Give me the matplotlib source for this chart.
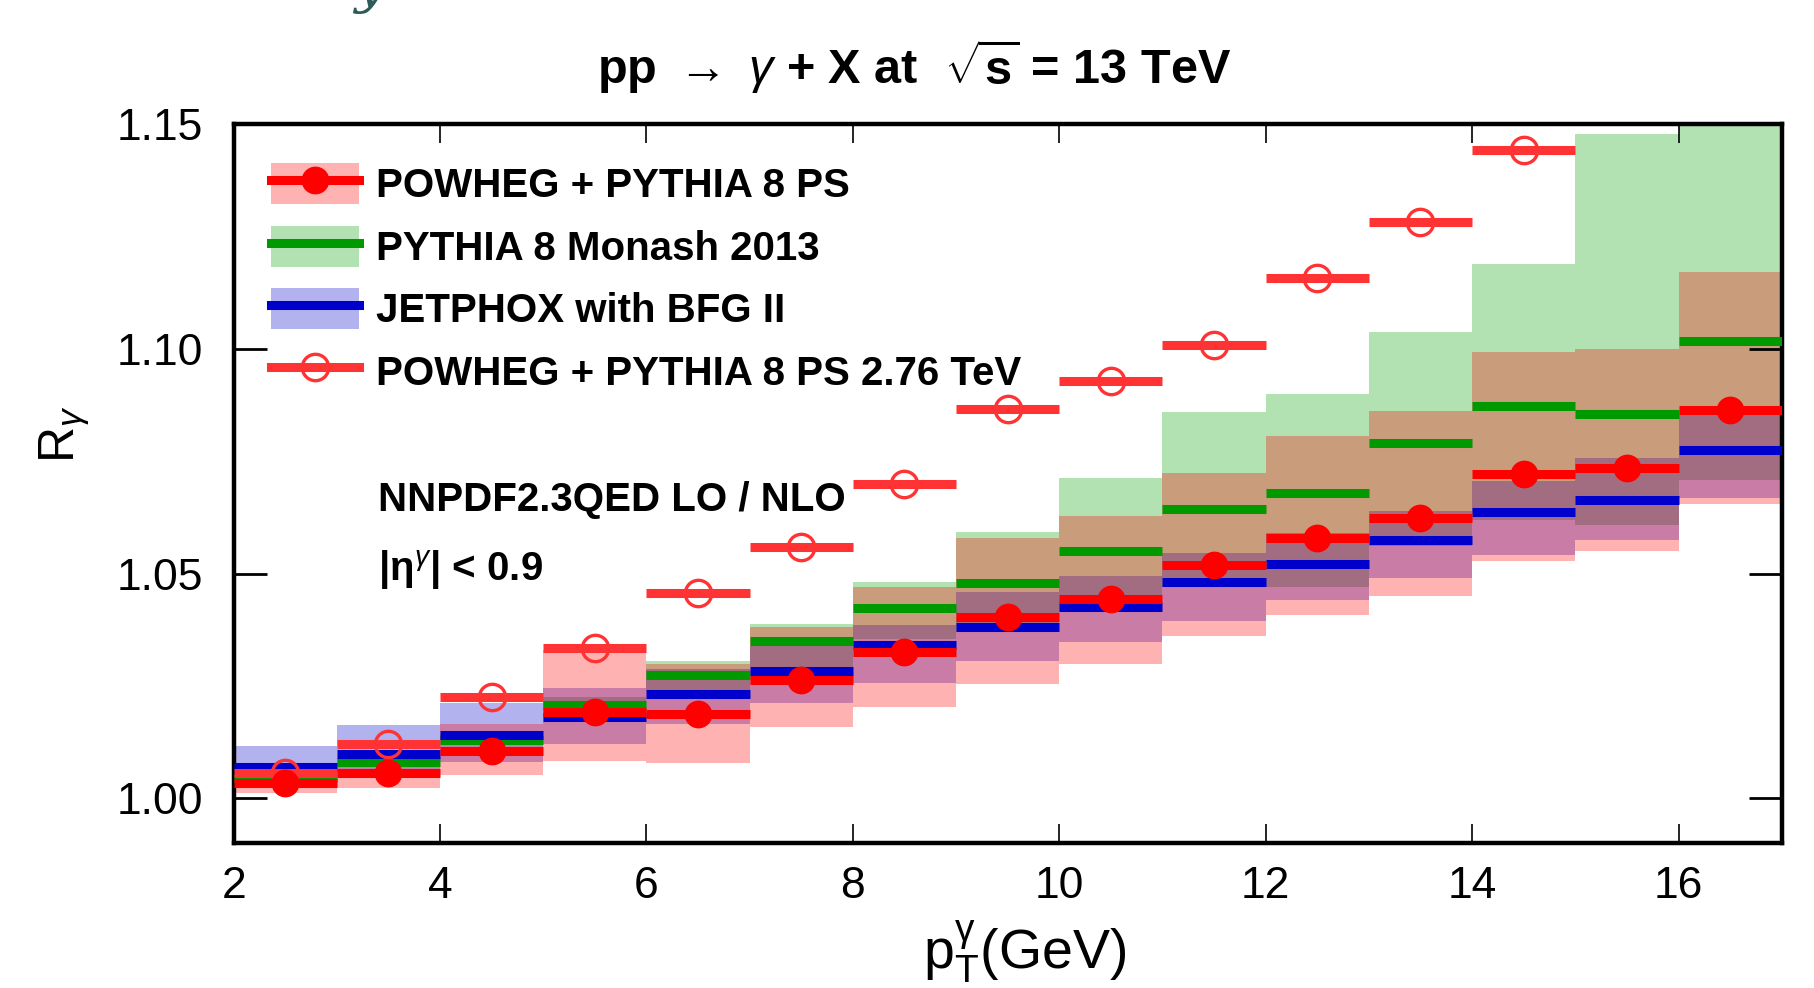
import numpy as np
import matplotlib
matplotlib.use("Agg")
import matplotlib.pyplot as plt
from matplotlib.patches import Patch
from matplotlib.lines import Line2D

plt.rcParams['font.family'] = ['Liberation Sans', 'DejaVu Sans']
plt.rcParams['mathtext.fontset'] = 'custom'
plt.rcParams['mathtext.rm'] = 'Liberation Sans'
plt.rcParams['mathtext.it'] = 'Liberation Sans:italic'
plt.rcParams['mathtext.bf'] = 'Liberation Sans:bold'

# bins in pT (GeV)
edges = [2, 3, 4, 5, 6, 7, 8, 9, 10, 11, 12, 13, 14, 15, 16, 17]

# POWHEG + PYTHIA 8 PS (13 TeV)
powheg = [1.0035, 1.0056, 1.0106, 1.0192, 1.0188, 1.0264, 1.0326, 1.0403,
          1.0444, 1.0518, 1.0578, 1.0624, 1.0722, 1.0735, 1.0863]
powheg_lo = [1.0013, 1.0024, 1.0053, 1.0083, 1.0079, 1.0159, 1.0203, 1.0255,
             1.0299, 1.0362, 1.0408, 1.0451, 1.0527, 1.0550, 1.0655]
powheg_hi = [1.0060, 1.0070, 1.0166, 1.0329, 1.0299, 1.0382, 1.0470, 1.0578,
             1.0628, 1.0723, 1.0805, 1.0861, 1.0992, 1.1000, 1.1171]

# PYTHIA 8 Monash 2013
monash = [1.0045, 1.0080, 1.0130, 1.0208, 1.0275, 1.0349, 1.0423, 1.0480,
          1.0550, 1.0643, 1.0680, 1.0790, 1.0873, 1.0855, 1.1018]
monash_lo = [1.0035, 1.0072, 1.0122, 1.0200, 1.0240, 1.0293, 1.0355, 1.0369,
             1.0416, 1.0471, 1.0471, 1.0561, 1.0618, 1.0609, 1.0707]
monash_hi = [1.0055, 1.0088, 1.0140, 1.0225, 1.0305, 1.0388, 1.0482, 1.0593,
             1.0713, 1.0859, 1.0900, 1.1036, 1.1189, 1.1477, 1.1560]

# JETPHOX with BFG II
jetphox = [1.0070, 1.0098, 1.0142, 1.0181, 1.0233, 1.0283, 1.0340, 1.0380,
           1.0426, 1.0482, 1.0521, 1.0574, 1.0637, 1.0663, 1.0774]
jetphox_lo = [1.0040, 1.0060, 1.0081, 1.0122, 1.0166, 1.0211, 1.0256, 1.0305,
              1.0347, 1.0395, 1.0441, 1.0490, 1.0541, 1.0574, 1.0668]
jetphox_hi = [1.0116, 1.0163, 1.0211, 1.0245, 1.0288, 1.0338, 1.0386, 1.0460,
              1.0494, 1.0546, 1.0591, 1.0639, 1.0705, 1.0757, 1.0855]

# POWHEG + PYTHIA 8 PS at 2.76 TeV (first 13 bins are inside the frame)
powheg276 = [1.0057, 1.0120, 1.0225, 1.0335, 1.0456, 1.0559, 1.0698, 1.0866,
             1.0928, 1.1008, 1.1157, 1.1281, 1.1441]

xticks = [2, 4, 6, 8, 10, 12, 14, 16]
yticks = [1.00, 1.05, 1.10, 1.15]

edges = np.array(edges)
lo_e = edges[:-1]
hi_e = edges[1:]
centers = 0.5 * (lo_e + hi_e)

RED = '#ff0000'
RED2 = '#ff3333'
GREEN = '#009900'
GREEN_BAND = '#00a000'
BLUE = '#0000cc'
ALPHA = 0.3
LW = 6.5
MS = 19

fig = plt.figure(figsize=(18.14, 9.88), dpi=100)
ax = fig.add_axes([0.1288, 0.1464, 0.8534, 0.7283])

def band(lo, hi, color):
    lo = np.array(lo)
    hi = np.array(hi)
    ax.bar(centers, hi - lo, bottom=lo, width=1.0, color=color,
           alpha=ALPHA, linewidth=0, zorder=1)

band(monash_lo, monash_hi, GREEN_BAND)
band(jetphox_lo, jetphox_hi, BLUE)
band(powheg_lo, powheg_hi, RED)

ax.hlines(monash, lo_e, hi_e, color=GREEN, lw=LW, zorder=3)
ax.hlines(jetphox, lo_e, hi_e, color=BLUE, lw=LW, zorder=3)

n276 = len(powheg276)
ax.hlines(powheg276, lo_e[:n276], hi_e[:n276], color=RED2, lw=LW, zorder=4)
ax.plot(centers[:n276], powheg276, 'o', ms=MS, mfc='none', mec=RED2,
        mew=2.4, zorder=5)

ax.hlines(powheg, lo_e, hi_e, color=RED, lw=LW, zorder=6)
ax.plot(centers, powheg, 'o', ms=MS, color=RED, zorder=7)

ax.set_xlim(2, 17)
ax.set_ylim(0.990, 1.15)
ax.set_xticks(xticks)
ax.set_yticks(yticks)
ax.set_yticklabels(['%.2f' % v for v in yticks])
ax.tick_params(axis='both', which='major', labelsize=32, direction='in',
               top=True, right=True)
ax.tick_params(axis='x', length=14, width=1.2, pad=16)
ax.tick_params(axis='y', length=24, width=2, pad=22)
for s in ax.spines.values():
    s.set_linewidth(3.2)

# legend
h1 = (Patch(facecolor=RED, alpha=ALPHA, lw=0),
      Line2D([], [], color=RED, lw=LW, marker='o', ms=MS))
h2 = (Patch(facecolor=GREEN_BAND, alpha=ALPHA, lw=0),
      Line2D([], [], color=GREEN, lw=LW))
h3 = (Patch(facecolor=BLUE, alpha=ALPHA, lw=0),
      Line2D([], [], color=BLUE, lw=LW))
h4 = Line2D([], [], color=RED2, lw=LW, marker='o', ms=MS, mfc='none',
            mec=RED2, mew=2.4)
leg = ax.legend([h1, h2, h3, h4],
                ['POWHEG + PYTHIA 8 PS', 'PYTHIA 8 Monash 2013',
                 'JETPHOX with BFG II', 'POWHEG + PYTHIA 8 PS 2.76 TeV'],
                loc='upper left', bbox_to_anchor=(0.003, 0.99),
                frameon=False, prop={'weight': 'bold', 'size': 29},
                handlelength=2.2, handleheight=1.2, labelspacing=0.5,
                handletextpad=0.42, borderpad=0.3)
leg.set_zorder(10)

ax.text(3.40, 1.0663, 'NNPDF2.3QED LO / NLO', fontsize=29, fontweight='bold',
        va='center', ha='left', zorder=10)
ax.text(3.40, 1.0508, r'|$\mathbf{\eta}^{\gamma}$| < 0.9', fontsize=29,
        fontweight='bold', va='center', ha='left', zorder=10)

fig.text(0.504, 0.933,
         r'pp $\rightarrow$ $\gamma$ + X at  $\sqrt{\mathbf{s}}$ = 13 TeV',
         fontsize=35, fontweight='bold', ha='center', va='center')
fig.text(0.565, 0.036, r'$\mathregular{p_T^{\gamma}}$(GeV)', fontsize=40,
         ha='center', va='center')
fig.text(0.036, 0.561, r'R$_{\gamma}$', fontsize=36, rotation=90,
         ha='center', va='center')

# stray glyph cut at the top edge of the original picture
fig.text(0.195, 0.998, 'y', fontsize=40, style='italic', family='DejaVu Serif',
         color='#2e5a5a', ha='left', va='baseline')

fig.savefig('out.png', dpi=100)
